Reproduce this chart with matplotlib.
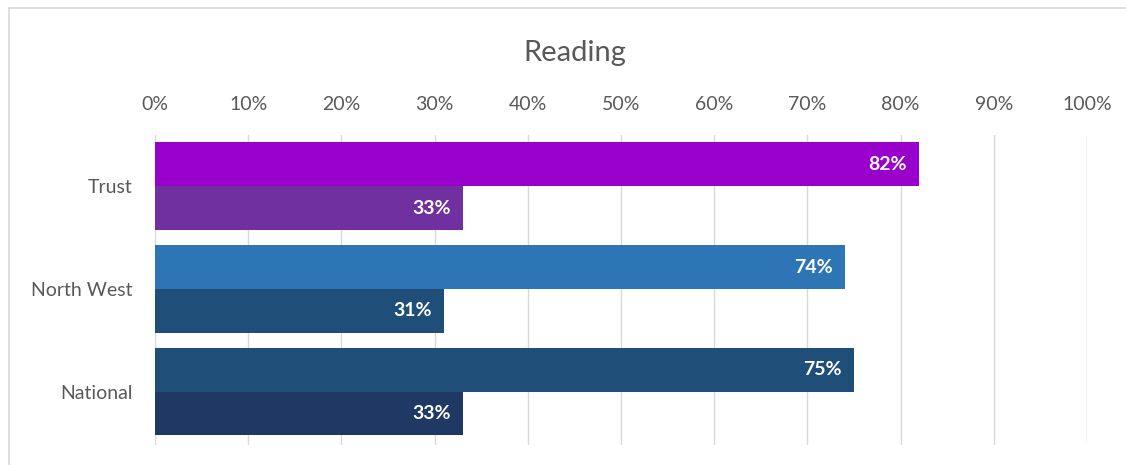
import numpy as np
import matplotlib.pyplot as plt
from matplotlib.lines import Line2D
from matplotlib.ticker import PercentFormatter

# reading attainment by area, two measures per area
areas = ["Trust", "North West", "National"]
first_measure = [82, 74, 75]
second_measure = [33, 31, 33]

first_colors = ["#9A00CC", "#2E75B6", "#1F4E79"]
second_colors = ["#7030A0", "#1F4E79", "#1F3864"]

plt.rcParams['font.family'] = ['Lato', 'DejaVu Sans']

fig = plt.figure(figsize=(11.26, 4.65), dpi=100)
ax = fig.add_axes([155 / 1126, 20 / 465, 932 / 1126, 310 / 465])

bar_h = 0.427
index = np.arange(len(areas))

top_bars = ax.barh(index - bar_h / 2, first_measure, height=bar_h,
                   color=first_colors, zorder=3)
bottom_bars = ax.barh(index + bar_h / 2, second_measure, height=bar_h,
                      color=second_colors, zorder=3)

# value labels inside the bar ends
for bars, values in [(top_bars, first_measure), (bottom_bars, second_measure)]:
    for bar, v in zip(bars, values):
        ax.text(v - 1.3, bar.get_y() + bar.get_height() / 2, str(v) + "%",
                ha="right", va="center", color="white", fontsize=14,
                fontweight="bold", zorder=4)

ax.set_xlim(0, 100)
ax.set_ylim(2.52, -0.5)
ax.set_xticks(np.arange(0, 101, 10))
ax.xaxis.set_major_formatter(PercentFormatter(decimals=0))
ax.xaxis.tick_top()
ax.set_yticks(index)
ax.set_yticklabels(areas)
ax.tick_params(axis="both", length=0, labelsize=14, colors="#595959")
ax.tick_params(axis="x", pad=16)
ax.tick_params(axis="y", pad=16)

ax.grid(axis="x", color="#D9D9D9", linewidth=1, zorder=0)
for side in ax.spines.values():
    side.set_visible(False)

fig.text(575 / 1126, 1 - 53 / 465, "Reading", ha="center", va="center",
         fontsize=21, color="#595959")

# chart area outline (left and top edges)
fig.add_artist(Line2D([9 / 1126, 9 / 1126], [0, 1 - 8 / 465],
                      transform=fig.transFigure, color="#D9D9D9", lw=1.2))
fig.add_artist(Line2D([9 / 1126, 1], [1 - 8 / 465, 1 - 8 / 465],
                      transform=fig.transFigure, color="#D9D9D9", lw=1.2))

fig.savefig("out.png", dpi=100)
